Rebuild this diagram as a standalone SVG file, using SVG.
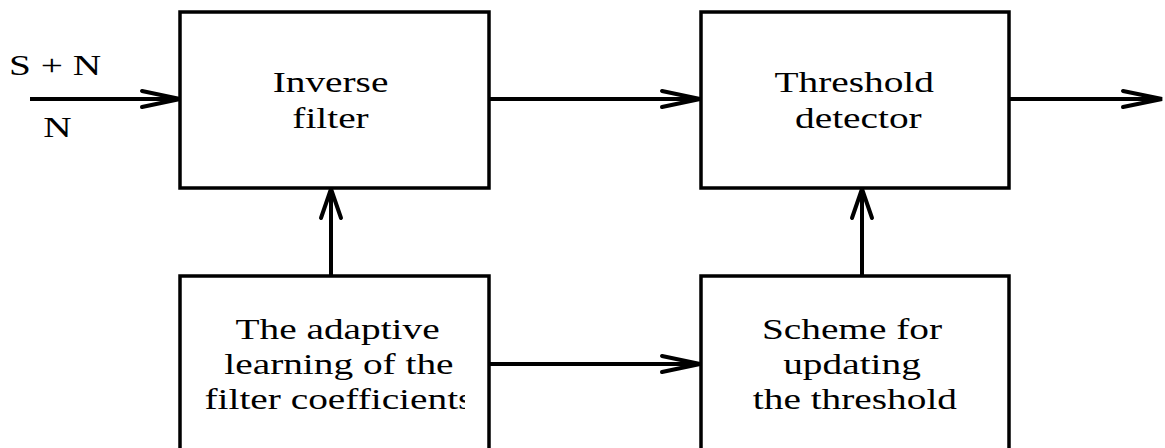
<svg xmlns="http://www.w3.org/2000/svg" width="1165" height="448" viewBox="0 0 1165 448">
  <style>
    .box { fill: #fff; stroke: #000; stroke-width: 3.5; }
    .ln { fill: none; stroke: #000; stroke-width: 4; }
    .hd { fill: none; stroke: #000; stroke-width: 4; stroke-linecap: round; stroke-linejoin: miter; }
    .t { font-family: "Liberation Serif", "Times New Roman", serif; font-size: 28.5px; fill: #000; text-anchor: middle; }
  </style>
  <defs>
    <clipPath id="clipCoef"><rect x="0" y="380" width="465" height="40"/></clipPath>
  </defs>
  <rect width="1165" height="448" fill="#fff"/>
  <g id="connectors">
    <line class="ln" x1="30" y1="99" x2="180" y2="99"/>
    <path class="hd" d="M142,91 L180,99 L142,107"/>
    <line class="ln" x1="489" y1="99" x2="701" y2="99"/>
    <path class="hd" d="M662,91 L700,99 L662,107"/>
    <line class="ln" x1="1009" y1="99" x2="1162" y2="99"/>
    <path class="hd" d="M1123,91 L1162,99 L1123,107"/>
    <line class="ln" x1="489" y1="364" x2="701" y2="364"/>
    <path class="hd" d="M662,356 L700,364 L662,372"/>
    <line class="ln" x1="331" y1="276" x2="331" y2="188"/>
    <path class="hd" d="M321,218 L331,189 L341,218"/>
    <line class="ln" x1="862" y1="276" x2="862" y2="188"/>
    <path class="hd" d="M852,218 L862,189 L872,218"/>
  </g>
  <g id="input-labels">
    <g transform="scale(1.38 1)">
      <text class="t" x="39.9" y="75">S + N</text>
      <text class="t" x="41.7" y="137">N</text>
    </g>
  </g>
  <g id="inverse-filter">
    <rect class="box" x="180" y="12" width="309" height="176"/>
    <g transform="scale(1.38 1)">
      <text class="t" x="239.5" y="92">Inverse</text>
      <text class="t" x="239.5" y="128">filter</text>
    </g>
  </g>
  <g id="threshold-detector">
    <rect class="box" x="701" y="12" width="308" height="176"/>
    <g transform="scale(1.38 1)">
      <text class="t" x="619" y="92">Threshold</text>
      <text class="t" x="622" y="128">detector</text>
    </g>
  </g>
  <g id="adaptive-learning">
    <rect class="box" x="180" y="276" width="309" height="190"/>
    <g transform="scale(1.38 1)">
      <text class="t" x="244.6" y="339">The adaptive</text>
      <text class="t" x="245.6" y="374">learning of the</text>
    </g>
    <g clip-path="url(#clipCoef)">
      <g transform="scale(1.38 1)">
        <text class="t" x="245.6" y="409">filter coefficients</text>
      </g>
    </g>
  </g>
  <g id="threshold-update">
    <rect class="box" x="701" y="276" width="308" height="190"/>
    <g transform="scale(1.38 1)">
      <text class="t" x="617.4" y="339">Scheme for</text>
      <text class="t" x="617.4" y="374">updating</text>
      <text class="t" x="619.5" y="409">the threshold</text>
    </g>
  </g>
</svg>
